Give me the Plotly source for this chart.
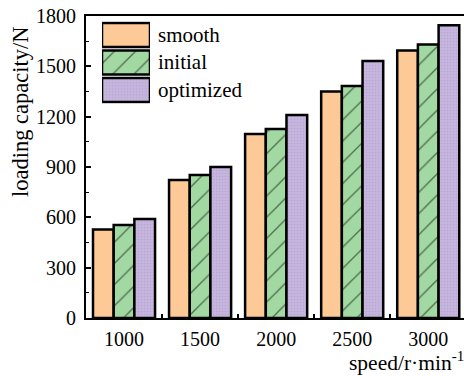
import plotly.graph_objects as go

# Loading capacity (N) by rotational speed for three surface designs
speeds = ["1000", "1500", "2000", "2500", "3000"]
smooth = [527, 823, 1097, 1350, 1595]
initial = [555, 853, 1127, 1383, 1630]
optimized = [590, 900, 1210, 1532, 1745]
y_ticks = [0, 300, 600, 900, 1200, 1500, 1800]
series_names = ["smooth", "initial", "optimized"]

FONT = "'Liberation Serif', 'Times New Roman', Times, serif"
W, H = 464, 376
L, R, T, B = 86, 0, 16, 58

styles = {
    "smooth": dict(color="#fdc996"),
    "initial": dict(color="#a2d9a2",
                    pattern=dict(shape="/", size=15, solidity=0.09,
                                 fgcolor="#000000", fillmode="overlay")),
    "optimized": dict(color="#c6b6de",
                      pattern=dict(shape=".", size=3, solidity=0.25,
                                   fgcolor="#a898c4", fillmode="overlay")),
}
outline = dict(color="#000000", width=2.5)

fig = go.Figure()
for name, vals in zip(series_names, [smooth, initial, optimized]):
    st = styles[name]
    fig.add_trace(go.Bar(
        x=speeds, y=vals, name=name,
        marker=dict(color=st["color"], pattern=st.get("pattern"), line=outline),
        showlegend=False,
    ))

# Large legend swatches drawn on a small auxiliary axis pair
for i, name in enumerate(series_names):
    st = styles[name]
    fig.add_trace(go.Bar(
        x=[1], y=[i], base=0, orientation="h", width=0.87,
        marker=dict(color=st["color"], pattern=st.get("pattern"), line=outline),
        xaxis="x2", yaxis="y2", showlegend=False, hoverinfo="skip",
    ))

ph = H - T - B
def py(pix):
    return (H - B - pix) / ph

def px(pix):
    return (pix - L) / (W - L - R)

leg_y = [35, 62.5, 90]
annotations = []
for name, yy in zip(series_names, leg_y):
    annotations.append(dict(
        text=name, x=px(156), y=py(yy), xref="paper", yref="paper",
        xanchor="left", yanchor="middle", showarrow=False,
        font=dict(family=FONT, size=21, color="#000"),
    ))
annotations.append(dict(
    text="loading capacity/N", x=px(21), y=py(112), xref="paper", yref="paper",
    textangle=-90, xanchor="center", yanchor="middle", showarrow=False,
    font=dict(family=FONT, size=22.5, color="#000"),
))
annotations.append(dict(
    text="speed/r·min<sup>-1</sup>", x=px(466), y=py(361), xref="paper", yref="paper",
    xanchor="right", yanchor="middle", showarrow=False,
    font=dict(family=FONT, size=21.5, color="#000"),
))

fig.update_layout(
    width=W, height=H,
    margin=dict(l=L, r=R, t=T, b=B, pad=0),
    paper_bgcolor="white", plot_bgcolor="white",
    barmode="group", bargap=0.184, bargroupgap=0,
    font=dict(family=FONT, size=20, color="#000"),
    annotations=annotations,
    xaxis=dict(
        type="category", range=[-0.5, 4.47],
        showline=True, linecolor="#000", linewidth=2, mirror=True,
        ticks="inside", tickson="boundaries", ticklen=4, tickwidth=1.5,
        tickcolor="#000", showgrid=False, zeroline=False,
        tickfont=dict(family=FONT, size=20), ticklabelstandoff=2,
    ),
    yaxis=dict(
        range=[0, 1800], tickvals=y_ticks,
        showline=True, linecolor="#000", linewidth=2,
        ticks="inside", ticklen=5, tickwidth=1.5, tickcolor="#000",
        minor=dict(ticks="inside", dtick=150, ticklen=3, tickwidth=1.2, tickcolor="#000"),
        showgrid=False, zeroline=False,
        tickfont=dict(family=FONT, size=20), ticklabelstandoff=4,
    ),
    xaxis2=dict(domain=[px(102), px(150)],
                range=[0, 1], anchor="y2", visible=False, fixedrange=True),
    yaxis2=dict(domain=[py(103.75), py(21.25)], range=[2.5, -0.5],
                anchor="x2", visible=False, fixedrange=True),
)

fig.write_html("out.html")
